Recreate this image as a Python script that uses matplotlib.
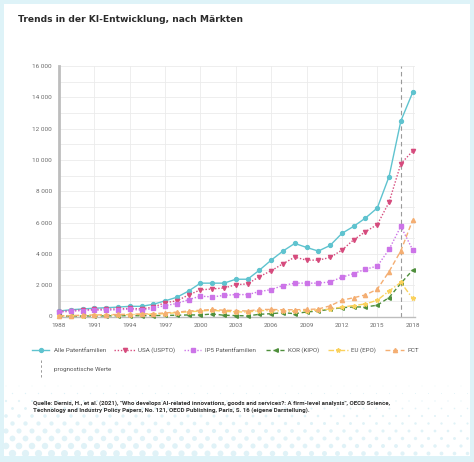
import numpy as np
import matplotlib
matplotlib.use("Agg")
import matplotlib.pyplot as plt
from matplotlib.lines import Line2D
from matplotlib.patches import Rectangle

# ---------------- data ----------------
years = list(range(1988, 2019))
alle = [350, 430, 480, 530, 560, 600, 650, 650, 780, 1000, 1230, 1630, 2130, 2130, 2130,
        2380, 2380, 2960, 3600, 4180, 4670, 4410, 4180, 4540, 5310, 5760, 6290, 6930,
        8940, 12490, 14310]
usa = [300, 380, 420, 450, 470, 480, 520, 480, 600, 880, 1000, 1380, 1700, 1760, 1820,
       2030, 2080, 2550, 2920, 3370, 3790, 3600, 3600, 3770, 4240, 4900, 5420, 5870,
       7300, 9760, 10560]
ip5 = [280, 330, 380, 400, 400, 430, 470, 400, 520, 700, 830, 1080, 1300, 1250, 1350,
       1400, 1400, 1590, 1720, 1980, 2130, 2130, 2130, 2210, 2510, 2740, 3020, 3220,
       4280, 5760, 4260]
kor = [20, 30, 30, 40, 40, 50, 50, 50, 60, 70, 80, 100, 100, 160, 80,
       60, 40, 140, 180, 245, 180, 290, 350, 460, 565, 610, 610, 720,
       1210, 2120, 2960]
eu = [40, 50, 60, 70, 80, 100, 120, 130, 150, 180, 250, 300, 350, 400, 330,
      300, 280, 380, 380, 350, 330, 380, 400, 480, 600, 700, 800, 1040,
      1630, 2180, 1150]
pct = [50, 60, 80, 100, 110, 130, 150, 160, 180, 230, 280, 350, 400, 450, 400,
       380, 350, 450, 450, 430, 430, 450, 480, 680, 1040, 1200, 1380, 1740,
       2870, 4200, 6150]
forecast_year = 2017
x_ticks = list(range(1988, 2019, 3))
y_ticks = list(range(0, 16001, 2000))

series_names = ["Alle Patentfamilien", "USA (USPTO)", "IP5 Patentfamilien",
                "KOR (KIPO)", "EU (EPO)", "PCT"]
title = "Trends in der KI-Entwicklung, nach Märkten"
forecast_label = "prognostische Werte"
source = ("Quelle: Dernis, H., et al. (2021), \"Who develops AI-related innovations, goods and services?: A firm-level analysis\", OECD Science,\n"
          "Technology and Industry Policy Papers, No. 121, OECD Publishing, Paris, S. 16 (eigene Darstellung).")

# ---------------- styles ----------------
styles = [
    dict(color="#5fc3cf", ls="-", marker="o", ms=2.8, lw=1.0),
    dict(color="#d64b7d", ls=(0, (1, 1.3)), marker="v", ms=3.0, lw=1.0),
    dict(color="#cc74e8", ls=(0, (1, 1.3)), marker="s", ms=2.8, lw=1.0),
    dict(color="#4f8f3c", ls=(0, (3, 2)), marker="<", ms=2.6, lw=1.0),
    dict(color="#fad15c", ls=(0, (4, 1.5, 1, 1.5)), marker="*", ms=3.2, lw=1.0),
    dict(color="#f4ae72", ls=(0, (3.5, 2)), marker="^", ms=3.0, lw=1.0),
]

W, H = 474, 462
fig = plt.figure(figsize=(W / 100, H / 100), dpi=100)
fig.patch.set_facecolor("#def3f8")

# background axes (card + decorative dots)
bg = fig.add_axes([0, 0, 1, 1], zorder=-10)
bg.set_xlim(0, W)
bg.set_ylim(H, 0)
bg.axis("off")
bg.add_patch(Rectangle((4, 4), 466, 452, facecolor="white", edgecolor="none"))
# decorative halftone dots
gx, gy = np.meshgrid(np.arange(6, 470, 13.0), np.arange(386, 456, 7.5))
gx = gx + (np.arange(gx.shape[0])[:, None] % 2) * 6.5
t = (gy - 386) / 70.0
sz = (t ** 1.8) * 30 * (1 - 0.8 * (gx / 470)) + 0.4
bg.scatter(gx.ravel(), gy.ravel(), s=sz.ravel(), color="#e0f2f7", linewidths=0)
bg.add_patch(Rectangle((4, 456), 466, 10, facecolor="#def3f8", edgecolor="none"))

# title
fig.text(18 / W, 1 - 20 / H, title, fontsize=6.6, fontweight="bold",
         family="DejaVu Sans", color="#2b2b2b", va="center", ha="left")

# main axes
ax = fig.add_axes([59 / W, 1 - 316.5 / H, 356 / W, 250.5 / H])
ax.set_facecolor("none")
for name, vals, st in zip(series_names, [alle, usa, ip5, kor, eu, pct], styles):
    ax.plot(years, vals, color=st["color"], ls=st["ls"], lw=st["lw"],
            marker=st["marker"], ms=st["ms"], mec=st["color"], mfc=st["color"],
            label=name, zorder=3, clip_on=False)
ax.axvline(forecast_year, color="#9a9a9a", ls=(0, (4, 3)), lw=0.8, zorder=2)

ax.set_xlim(1988, 2018.2)
ax.set_ylim(0, 16000)
ax.set_xticks(x_ticks)
ax.set_yticks(y_ticks)
ax.set_yticks(range(0, 16001, 1000), minor=True)
ax.set_yticklabels([f"{v:,}".replace(",", " ") for v in y_ticks])
ax.grid(True, which="both", axis="y", color="#ebebeb", lw=0.6, zorder=0)
ax.grid(True, which="major", axis="x", color="#ebebeb", lw=0.6, zorder=0)
ax.tick_params(which="both", length=0, labelsize=4.6, labelcolor="#6b6b6b", pad=5)
for lab in ax.get_xticklabels() + ax.get_yticklabels():
    lab.set_family("Roboto")
for s in ["top", "right"]:
    ax.spines[s].set_visible(False)
ax.spines["left"].set_color("#bdbdbd")
ax.spines["left"].set_linewidth(2.0)
ax.spines["bottom"].set_color("#bdbdbd")
ax.spines["bottom"].set_linewidth(1.0)

# manual legend (figure coordinates in px)
def fx(px):
    return px / W

def fy(py):
    return 1 - py / H

leg_items = [(32, 49, 54), (114, 135, 138), (184, 201, 205),
             (266, 285, 288), (328, 348, 351), (385, 404, 408)]
ly = 350
for (x0, x1, tx), name, st in zip(leg_items, series_names, styles):
    fig.add_artist(Line2D([fx(x0), fx(x1)], [fy(ly), fy(ly)], color=st["color"],
                          ls=st["ls"], lw=st["lw"], transform=fig.transFigure))
    fig.add_artist(Line2D([fx((x0 + x1) / 2)], [fy(ly)], color=st["color"],
                          marker=st["marker"], ms=st["ms"], ls="none",
                          transform=fig.transFigure))
    fig.text(fx(tx), fy(ly), name, fontsize=4.5, family="Roboto",
             color="#555555", va="center", ha="left")

fig.add_artist(Line2D([fx(41), fx(41)], [fy(360), fy(379)], color="#9a9a9a",
                      ls=(0, (2.5, 2.5)), lw=0.7, transform=fig.transFigure))
fig.text(fx(54), fy(369.5), forecast_label, fontsize=4.5, family="Roboto",
         color="#555555", va="center", ha="left")

fig.text(fx(33), fy(406.5), source, fontsize=4.4, family="Roboto",
         fontweight="bold", color="#2f2f2f", va="center", ha="left",
         linespacing=1.35)

fig.savefig("out.png", dpi=100, facecolor=fig.get_facecolor())
